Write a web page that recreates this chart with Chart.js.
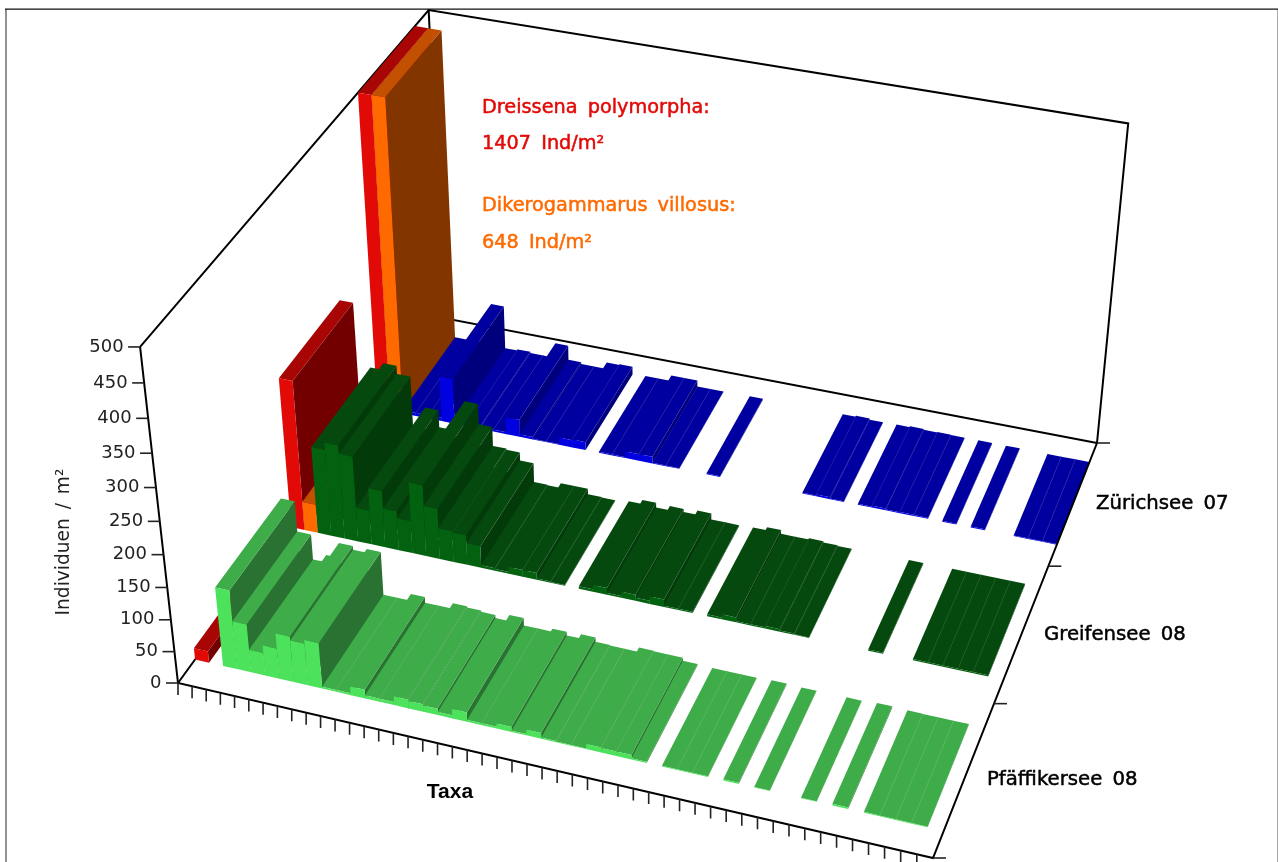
<!DOCTYPE html>
<html>
<head>
<meta charset="utf-8">
<title>Individuen / m2</title>
<script src="https://cdn.jsdelivr.net/npm/chart.js@4"></script>
<style>
  html, body { margin: 0; padding: 0; background: #fff; }
  canvas { display: block; }
</style>
</head>
<body>
<canvas id="chart" width="1278" height="862"></canvas>
<script>
// values, one entry per taxon (50 taxa)
// first two taxa are Dreissena polymorpha and Dikerogammarus villosus
const lakes = ['Pfäffikersee 08', 'Greifensee 08', 'Zürichsee 07'];
const pfaeffikersee = [18, 0, 124, 76, 36, 48, 72, 66, 72, 3, 3, 14, 5, 5, 14, 12, 10, 5, 15, 3, 3, 8, 2, 9, 2, 1, 1, 8, 7, 7, 2, 0, 1, 1, 1, 0, 2, 0, 1, 0, 0, 1, 0, 2.5, 0, 1.5, 1, 1, 1, 0];
const greifensee = [238, 46, 139, 150, 137, 55, 91, 63, 52, 114, 81, 50, 48, 35, 4, 3, 11, 11, 2, 1, 0, 4, 11, 3, 10, 5, 12, 2, 2, 0, 3, 8, 2, 2, 4, 2, 1, 0, 0, 0, 0, 2, 0, 0, 2, 2, 2, 2, 2, 0];
const zuerichsee = [1407, 648, 5, 5, 6, 74, 3, 5, 3, 3, 28, 4, 1, 1, 12, 13, 0, 1.5, 1.5, 11, 11, 1, 1, 0, 0, 1.5, 0, 0, 0, 0, 0, 0, 1.5, 3, 1, 0, 1.5, 3, 1.5, 2, 1.5, 0, 1.5, 0, 1.5, 0, 0, 1, 1, 1];
const yTicks = [0, 50, 100, 150, 200, 250, 300, 350, 400, 450, 500];
const taxaCount = 50;
const zMax = 500;

const seriesColors = [
  { front: '#4ce25c', top: '#3eac48', side: '#2a7232', edge: '#54b45c' },
  { front: '#03620f', top: '#05490f', side: '#023a0a', edge: '#1c5a25' },
  { front: '#0000e0', top: '#0000a0', side: '#00007c', edge: '#2020ac' }
];
const redColors = { front: '#e20a07', top: '#a80505', side: '#720000', edge: '#b82020' };
const orangeColors = { front: '#ff6a00', top: '#c25000', side: '#833500', edge: '#c86418' };

// camera: floor corners on screen, and where the vertical edges meet
const floorCorners = [[178, 683], [933, 858], [1097, 443], [443, 318]];
const vanish = [658, 4938];
const topShrink = -0.0732 / zMax;

function makeFloor(p) {
  const dx1 = p[1][0] - p[2][0], dx2 = p[3][0] - p[2][0], sx = p[0][0] - p[1][0] + p[2][0] - p[3][0];
  const dy1 = p[1][1] - p[2][1], dy2 = p[3][1] - p[2][1], sy = p[0][1] - p[1][1] + p[2][1] - p[3][1];
  const det = dx1 * dy2 - dx2 * dy1;
  const g = (sx * dy2 - dx2 * sy) / det;
  const h = (dx1 * sy - sx * dy1) / det;
  return {
    a: p[1][0] - p[0][0] + g * p[1][0], b: p[3][0] - p[0][0] + h * p[3][0], c: p[0][0],
    d: p[1][1] - p[0][1] + g * p[1][1], e: p[3][1] - p[0][1] + h * p[3][1], f: p[0][1],
    g: g, h: h
  };
}
const floor = makeFloor(floorCorners);

// taxon position, depth 0..1, height in Ind/m2 -> point on the chart's x/y scales
function project(taxon, depth, value) {
  const u = taxon / taxaCount;
  const kz = topShrink * value;
  const w = floor.g * u + floor.h * depth + 1 + kz;
  return {
    x: (floor.a * u + floor.b * depth + floor.c + kz * vanish[0]) / w,
    y: (floor.d * u + floor.e * depth + floor.f + kz * vanish[1]) / w
  };
}

const datasets = [];
function poly(points, color) {
  datasets.push({ data: points, showLine: true, pointRadius: 0, borderWidth: 0, tension: 0, fill: 'shape', backgroundColor: color });
}
function line(points, color, width) {
  datasets.push({ data: points, showLine: true, pointRadius: 0, borderWidth: width, borderColor: color, tension: 0, fill: false });
}

function addBar(i, depth0, depth1, value, prev, colors) {
  const z = Math.min(value, zMax);
  const fl = project(i, depth0, z), fr = project(i + 1, depth0, z);
  const bl = project(i, depth1, z), br = project(i + 1, depth1, z);
  poly([fr, br, project(i + 1, depth1, 0), project(i + 1, depth0, 0), fr], colors.side);
  poly([fl, fr, br, bl, fl], colors.top);
  poly([fl, fr, project(i + 1, depth0, 0), project(i, depth0, 0), fl], colors.front);
  // light seam between two neighbours of about the same height
  if (prev > 0 && Math.abs(prev - value) <= 2.5) line([fl, bl], colors.edge, 0.8);
}

// frame round the picture
line([{ x: 6, y: 862 }, { x: 6, y: 9 }], '#777', 1.6);
line([{ x: 1277.5, y: 9 }, { x: 1277.5, y: 862 }], '#aaa', 1);
line([{ x: 5, y: 9.2 }, { x: 1278, y: 9.2 }], '#111', 1.3);

// walls and floor edges
line([project(0, 0, zMax), project(0, 1, zMax), project(taxaCount, 1, zMax), project(taxaCount, 1, 0)], '#000', 2);
line([project(0, 1, zMax), project(0, 1, 0), project(taxaCount, 1, 0)], '#000', 2);
line([project(0, 0, 0), project(0, 1, 0)], '#000', 2);

// bars, back row first, left to right
[zuerichsee, greifensee, pfaeffikersee].forEach((values, n) => {
  const row = 2 - n;
  const depth0 = row / 3 + 1 / 18, depth1 = row / 3 + 5 / 18;
  values.forEach((v, i) => {
    if (v <= 0) return;
    const colors = i === 0 ? redColors : i === 1 ? orangeColors : seriesColors[row];
    addBar(i, depth0, depth1, v, i > 0 ? values[i - 1] : 0, colors);
  });
});

// axes on top of the bars
line([project(0, 0, zMax), project(0, 0, 0), project(taxaCount, 0, 0), project(taxaCount, 1, 0)], '#000', 2);
yTicks.forEach(v => {
  const p = project(0, 0, v);
  line([{ x: p.x - 12, y: p.y }, p], '#222', 1.6);
});
for (let i = 0; i < taxaCount; i++) {
  const p = project(i, 0, 0);
  line([p, { x: p.x, y: p.y + 12 }], '#222', 1.6);
}
for (let r = 0; r <= 3; r++) {
  const p = project(taxaCount, r / 3, 0);
  line([p, { x: p.x + 13, y: p.y }], '#222', 1.6);
}

// text goes on last, thin stroke because the original text is heavy
function heavyText(ctx, str, x, y) {
  ctx.fillText(str, x, y);
  ctx.lineWidth = 0.5;
  ctx.strokeStyle = ctx.fillStyle;
  ctx.strokeText(str, x, y);
}
const textPlugin = {
  id: 'axisText',
  afterDraw(chart) {
    const ctx = chart.ctx;
    ctx.save();
    ctx.textBaseline = 'middle';
    ctx.font = '18px "DejaVu Sans"';
    ctx.fillStyle = '#222';
    ctx.textAlign = 'right';
    yTicks.forEach(v => {
      const p = project(0, 0, v);
      ctx.fillText(String(v), p.x - 16.5, p.y);
    });
    ctx.textAlign = 'left';
    ctx.font = '19.7px "DejaVu Sans"';
    ctx.wordSpacing = '4px';
    ctx.fillStyle = '#000';
    heavyText(ctx, lakes[2], 1096, 504);
    heavyText(ctx, lakes[1], 1044, 635);
    heavyText(ctx, lakes[0], 987, 780);
    ctx.font = '19.3px "DejaVu Sans"';
    ctx.fillStyle = '#e20a07';
    heavyText(ctx, 'Dreissena polymorpha:', 482, 108);
    heavyText(ctx, zuerichsee[0] + ' Ind/m²', 482, 144);
    ctx.fillStyle = '#ff6a00';
    heavyText(ctx, 'Dikerogammarus villosus:', 482, 206);
    heavyText(ctx, zuerichsee[1] + ' Ind/m²', 482, 243);
    ctx.wordSpacing = '0px';
    ctx.fillStyle = '#000';
    ctx.textAlign = 'center';
    ctx.font = 'bold 21px "Liberation Sans"';
    ctx.fillText('Taxa', 450, 792);
    ctx.font = '18.6px "DejaVu Sans"';
    ctx.wordSpacing = '3px';
    ctx.fillStyle = '#222';
    ctx.translate(64, 542);
    ctx.rotate(-Math.PI / 2);
    ctx.fillText('Individuen / m²', 0, 0);
    ctx.restore();
  }
};

// first dataset is painted last in Chart.js, so flip the paint order
new Chart(document.getElementById('chart'), {
  type: 'scatter',
  data: { datasets: datasets.reverse() },
  options: {
    responsive: false,
    animation: false,
    events: [],
    layout: { padding: 0 },
    plugins: { legend: { display: false }, tooltip: { enabled: false } },
    scales: {
      x: { type: 'linear', min: 0, max: 1278, display: false },
      y: { type: 'linear', min: 0, max: 862, reverse: true, display: false }
    }
  },
  plugins: [textPlugin]
});
</script>
</body>
</html>
